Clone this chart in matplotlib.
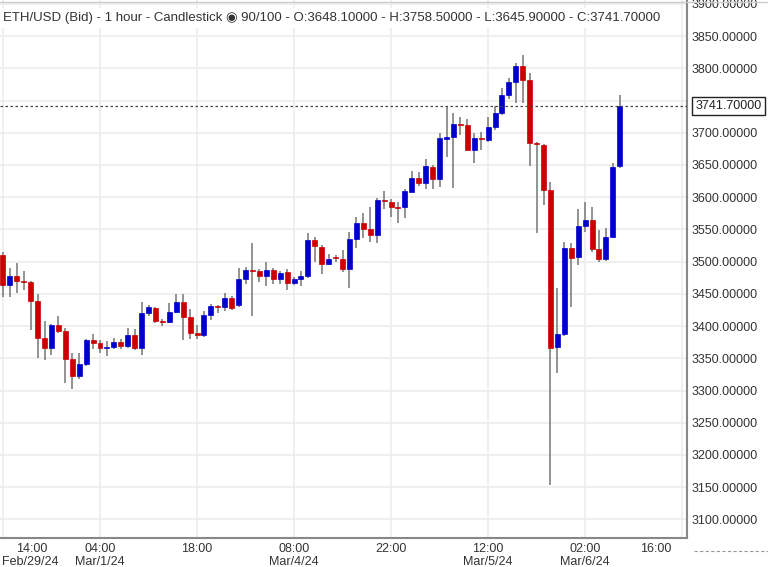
import matplotlib
matplotlib.use("Agg")
import matplotlib.pyplot as plt
from matplotlib.patches import Rectangle

opens = [3510,3464,3478,3470,3468,3439,3381,3366,3402,3392,3349,3322,3341,3378,3374,3366,3367,3375,3369,3386,
         3366,3420,3428,3408,3406,3422,3437,3414,3389,3386,3417,3431,3429,3443,3432,3473,3487,3485,3478,3487,
         3473,3484,3467,3473,3478,3534,3523,3496,3506,3504,3489,3535,3560,3551,3541,3596,3593,3585,3585,3608,
         3630,3622,3647,3628,3691,3693,3714,3712,3673,3692,3689,3709,3731,3759,3779,3804,3782,3684,3681,3611,
         3367,3387,3521,3507,3555,3565,3520,3504,3538,3648.1]
closes = [3464,3478,3470,3468,3439,3381,3366,3402,3392,3349,3322,3341,3378,3374,3366,3367,3375,3369,3386,3366,
          3420,3430,3408,3406,3422,3437,3414,3389,3386,3417,3431,3429,3443,3428,3473,3487,3485,3478,3487,3473,
          3482,3467,3473,3478,3534,3524,3496,3504,3505,3489,3535,3560,3551,3541,3596,3594,3585,3583,3610,3630,
          3622,3648,3628,3692,3693,3714,3712,3673,3692,3690,3709,3731,3759,3779,3804,3782,3684,3682,3611,3366,
          3387,3521,3506,3555,3565,3520,3504,3538,3647,3741.7]
highs = [3515,3490,3498,3485,3470,3450,3408,3403,3416,3397,3358,3358,3380,3387,3378,3377,3381,3380,3397,3395,
         3437,3432,3430,3411,3436,3450,3450,3426,3401,3423,3434,3433,3451,3447,3490,3492,3529,3488,3499,3490,
         3486,3488,3476,3486,3544,3538,3526,3512,3510,3518,3546,3569,3575,3585,3598,3610,3597,3593,3612,3641,
         3639,3659,3650,3700,3742,3731,3724,3721,3700,3701,3724,3742,3770,3785,3808,3821,3793,3686,3683,3623,
         3459,3530,3529,3582,3593,3585,3549,3552,3653,3758.5]
lows = [3445,3445,3451,3456,3394,3350,3347,3355,3390,3311,3302,3318,3338,3364,3358,3353,3365,3364,3366,3363,
        3355,3415,3404,3400,3405,3420,3378,3380,3380,3383,3410,3421,3423,3425,3430,3465,3415,3468,3462,3466,
        3466,3456,3463,3462,3475,3499,3481,3494,3500,3484,3459,3521,3537,3530,3529,3582,3570,3560,3568,3608,
        3617,3613,3613,3616,3662,3614,3697,3672,3653,3673,3685,3705,3727,3752,3746,3746,3648,3544,3588,3153,
        3327,3384,3429,3495,3546,3515,3499,3501,3536,3645.9]

tick_pos = [0, 14, 28, 42, 56, 70, 84, 98]
tick_time = ["14:00", "04:00", "18:00", "08:00", "22:00", "12:00", "02:00", "16:00"]
tick_date = ["Feb/29/24", "Mar/1/24", "", "Mar/4/24", "", "Mar/5/24", "Mar/6/24", ""]
yticks = list(range(3100, 3901, 50))

plt.rcParams['font.family'] = ['Liberation Sans', 'DejaVu Sans']
fig = plt.figure(figsize=(7.68, 5.67), dpi=100)
ax = fig.add_axes([0.0, 0.051, 0.8945, 0.949])
ax.set_xlim(-0.43, 98.7)
ax.set_ylim(3071, 3906)

up, dn, wick = "#0000CC", "#CC0000", "#808080"
for i, (o, h, l, c) in enumerate(zip(opens, highs, lows, closes)):
    ax.vlines(i, l, h, color=wick, lw=1.2, zorder=2)
    col = up if c >= o else dn
    lo, hi = min(o, c), max(o, c)
    hgt = max(hi - lo, 1.5)
    ax.add_patch(Rectangle((i - 0.36, lo), 0.72, hgt, facecolor=col, edgecolor=col, lw=0.5, zorder=3))

last = closes[-1]
ax.axhline(last, color="#444444", lw=0.9, ls=(0, (2, 2)), zorder=4)

ax.set_yticks(yticks)
ax.set_xticks(tick_pos)
ax.grid(True, color="#ececec", lw=1.2)
ax.set_axisbelow(True)
ax.yaxis.tick_right()
ax.tick_params(axis='both', length=0, labelsize=9, colors="#333333")
ax.set_yticklabels(["" if abs(v - last) < 25 else f"{v:.5f}" for v in yticks])
ax.set_xticklabels([])
for s in ["top", "left"]:
    ax.spines[s].set_visible(False)
for s in ["right", "bottom"]:
    ax.spines[s].set_color("#888888")
    ax.spines[s].set_linewidth(1.5)

for p, t, d in zip(tick_pos, tick_time, tick_date):
    xoff = 0
    if p == 0:
        xoff = 4.2
    if p == 98:
        xoff = -3.8
    ax.text(p + xoff, 3063, t, ha="center", va="top", fontsize=9, color="#333333", clip_on=False)
    if d:
        dx = 4.0 if p == 0 else 0
        ax.text(p + dx, 3043, d, ha="center", va="top", fontsize=9, color="#333333", clip_on=False)

ax.text(1.012, last, f"{last:.5f}", transform=ax.get_yaxis_transform(), ha="left", va="center",
        fontsize=9, color="#222222", clip_on=False,
        bbox=dict(boxstyle="square,pad=0.25", fc="white", ec="#222222", lw=1))
ax.axhline(3051, xmin=1.01, xmax=1.12, color="#999999", lw=0.8, ls=(0, (3, 2)), clip_on=False)
fig.add_artist(plt.Line2D([0, 1], [0.997, 0.997], color="#cccccc", lw=1))

title = ("ETH/USD (Bid) - 1 hour - Candlestick \u25c9 90/100 - O:3648.10000 - H:3758.50000 "
         "- L:3645.90000 - C:3741.70000")
ax.text(0.005, 3878, title, ha="left", va="center", fontsize=9.5, color="#333333", zorder=6,
        bbox=dict(boxstyle="square,pad=0.3", fc="white", ec="none"))

fig.savefig("out.png", dpi=100)
